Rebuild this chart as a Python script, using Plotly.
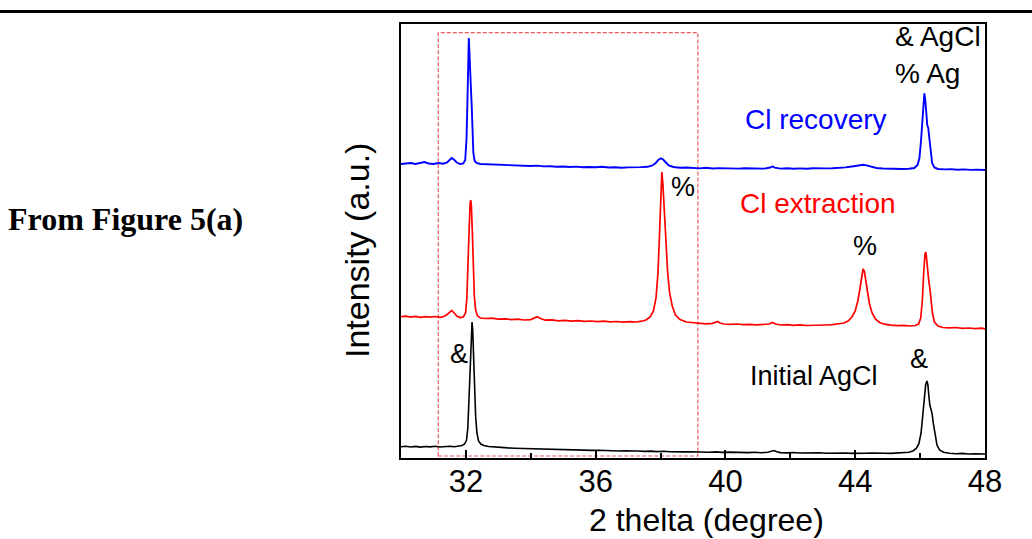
import plotly.graph_objects as go

# ---- data (2 theta in degrees, intensity in arbitrary units, stacked offsets) ----
blue_pts = [
    (30.00, 294), (30.15, 294.5), (30.30, 295), (30.45, 294), (30.60, 294.8), (30.72, 296),
    (30.85, 294.5), (31.00, 294), (31.15, 295), (31.30, 294.3), (31.42, 295.5), (31.50, 298.5),
    (31.56, 300), (31.63, 298.5), (31.72, 295.5), (31.82, 294), (31.92, 294.5), (31.98, 298),
    (32.02, 320), (32.05, 360), (32.07, 400), (32.09, 420), (32.11, 405), (32.13, 380),
    (32.16, 366), (32.18, 352), (32.20, 330), (32.23, 305), (32.27, 297), (32.33, 295),
    (32.45, 294), (32.60, 293.8), (32.80, 293.5), (33.00, 293), (33.20, 293.4), (33.40, 292.6),
    (33.60, 292.8), (33.80, 292.2), (34.00, 292), (34.20, 292.4), (34.40, 291.6), (34.60, 291.8),
    (34.80, 291.2), (35.00, 291.5), (35.20, 291), (35.40, 291.4), (35.60, 290.8), (35.80, 291),
    (36.00, 290.7), (36.20, 291.2), (36.40, 290.5), (36.60, 290.8), (36.80, 290.3), (37.00, 290.6),
    (37.20, 290.4), (37.40, 290.9), (37.60, 291.2), (37.75, 292.5), (37.85, 295), (37.93, 298),
    (38.01, 299.7), (38.08, 298.5), (38.15, 296), (38.25, 292.5), (38.40, 291), (38.60, 290.3),
    (38.80, 290.5), (39.00, 290), (39.20, 289.6), (39.40, 290.2), (39.60, 289.5), (39.80, 289.9),
    (40.00, 289.6), (40.20, 290), (40.40, 289.4), (40.60, 289.8), (40.80, 289.5), (41.00, 289.7),
    (41.20, 289.4), (41.38, 290.5), (41.45, 291.5), (41.52, 290.3), (41.70, 289.4), (41.90, 289.8),
    (42.10, 289.3), (42.30, 289.6), (42.50, 289.2), (42.70, 289.7), (42.90, 289.3), (43.10, 289.6),
    (43.30, 289.8), (43.50, 290.1), (43.70, 290.6), (43.90, 291.5), (44.05, 292.5), (44.15, 293),
    (44.25, 293.2), (44.35, 292.6), (44.48, 291.2), (44.65, 290), (44.85, 289.5), (45.05, 289.2),
    (45.25, 289.6), (45.45, 289), (45.65, 289.3), (45.82, 290), (45.92, 293), (45.98, 300),
    (46.03, 318), (46.07, 340), (46.10, 356), (46.13, 364.7), (46.16, 358), (46.19, 345),
    (46.22, 333), (46.25, 330), (46.28, 320), (46.32, 305), (46.37, 295), (46.44, 290.5),
    (46.55, 289), (46.75, 288.6), (46.95, 288.9), (47.15, 288.3), (47.35, 288.6), (47.55, 288.1),
    (47.75, 288.4), (48.00, 288),
]

red_pts = [
    (30.00, 141.3), (30.15, 141.8), (30.30, 140.9), (30.45, 141.6), (30.60, 140.7), (30.75, 141.4),
    (30.90, 140.8), (31.05, 141.5), (31.20, 140.6), (31.32, 141.5), (31.42, 143.5), (31.50, 146),
    (31.56, 147.3), (31.63, 145.5), (31.72, 142), (31.82, 140.5), (31.92, 141), (31.99, 145),
    (32.03, 160), (32.07, 200), (32.10, 235), (32.13, 255), (32.15, 258), (32.17, 252),
    (32.20, 225), (32.23, 190), (32.26, 162), (32.30, 148), (32.36, 142), (32.45, 140),
    (32.60, 139.5), (32.80, 139.8), (33.00, 138.8), (33.20, 139.2), (33.40, 138.4), (33.60, 138.8),
    (33.80, 138), (34.00, 138.4), (34.10, 139.5), (34.20, 141.3), (34.30, 139.5), (34.45, 137.8),
    (34.65, 138.1), (34.85, 137.2), (35.05, 137.6), (35.25, 136.9), (35.45, 137.3), (35.65, 136.6),
    (35.85, 137), (36.05, 136.4), (36.25, 136.8), (36.45, 136.1), (36.65, 136.5), (36.85, 135.9),
    (37.05, 136.3), (37.25, 136), (37.42, 136.8), (37.55, 138), (37.68, 141), (37.78, 147),
    (37.86, 160), (37.92, 185), (37.97, 225), (38.01, 265), (38.04, 286), (38.07, 275),
    (38.11, 250), (38.16, 215), (38.22, 185), (38.28, 165), (38.36, 152), (38.46, 143),
    (38.60, 138.5), (38.80, 136), (39.00, 135.3), (39.20, 134.6), (39.40, 134.2), (39.60, 134.6),
    (39.70, 135.5), (39.76, 136.5), (39.83, 135), (39.95, 134), (40.15, 133.6), (40.35, 134),
    (40.55, 133.3), (40.75, 133.7), (40.95, 133.1), (41.15, 133.5), (41.35, 134), (41.45, 135.5),
    (41.55, 134), (41.70, 133), (41.90, 133.4), (42.10, 132.7), (42.30, 133.1), (42.50, 132.5),
    (42.70, 132.9), (42.90, 132.6), (43.10, 133), (43.30, 133.3), (43.50, 134), (43.65, 135),
    (43.78, 137), (43.90, 141), (44.00, 147), (44.08, 157), (44.15, 170), (44.20, 182),
    (44.24, 189), (44.28, 187), (44.33, 178), (44.38, 166), (44.44, 154), (44.52, 145),
    (44.62, 139), (44.75, 135.5), (44.90, 133.8), (45.10, 132.8), (45.30, 132.3), (45.50, 132.6),
    (45.70, 132), (45.85, 132.5), (45.95, 134), (46.02, 140), (46.07, 158), (46.11, 185),
    (46.15, 204), (46.18, 206), (46.21, 195), (46.24, 180), (46.27, 176), (46.30, 170),
    (46.34, 158), (46.38, 145), (46.44, 136), (46.55, 132), (46.70, 130.5), (46.90, 130.1),
    (47.10, 130.5), (47.30, 129.7), (47.50, 130), (47.70, 129.4), (47.90, 129.8), (48.00, 129.2),
]

black_pts = [
    (30.00, 11.3), (30.15, 11.8), (30.30, 11), (30.45, 11.6), (30.60, 10.9), (30.75, 11.5),
    (30.90, 11.1), (31.05, 11.7), (31.20, 11), (31.35, 11.4), (31.50, 11.8), (31.65, 11.2),
    (31.78, 11.8), (31.88, 12.5), (31.96, 14), (32.02, 18), (32.06, 30), (32.10, 60),
    (32.14, 100), (32.17, 125), (32.19, 136), (32.21, 128), (32.24, 100), (32.27, 68),
    (32.30, 42), (32.34, 25), (32.39, 17), (32.46, 14), (32.55, 12.5), (32.70, 11.5),
    (32.90, 10.8), (33.10, 10.5), (33.30, 10.1), (33.50, 9.8), (33.70, 9.6), (33.90, 9.2),
    (34.10, 9.3), (34.30, 8.8), (34.50, 8.9), (34.70, 8.4), (34.90, 8.6), (35.10, 8.1),
    (35.30, 8.3), (35.50, 7.8), (35.70, 8), (35.90, 7.6), (36.10, 7.8), (36.30, 7.3),
    (36.50, 7.5), (36.70, 7), (36.90, 7.3), (37.10, 6.8), (37.30, 7), (37.50, 6.6),
    (37.70, 6.9), (37.90, 6.4), (38.10, 6.7), (38.30, 6.2), (38.50, 6.5), (38.70, 6.1),
    (38.90, 6.3), (39.10, 5.9), (39.30, 6.2), (39.50, 5.7), (39.70, 6.1), (39.90, 5.6),
    (40.10, 5.9), (40.30, 5.5), (40.50, 5.8), (40.70, 5.4), (40.90, 5.7), (41.10, 5.3),
    (41.30, 5.8), (41.42, 7), (41.50, 7.5), (41.58, 6.3), (41.70, 5.4), (41.90, 5.1),
    (42.10, 5.5), (42.30, 5), (42.50, 5.3), (42.70, 4.9), (42.90, 5.2), (43.10, 4.8),
    (43.30, 5.1), (43.50, 4.7), (43.70, 5), (43.90, 4.6), (44.10, 5), (44.30, 4.7),
    (44.50, 4.9), (44.70, 4.5), (44.90, 4.8), (45.10, 4.6), (45.30, 4.9), (45.50, 5.2),
    (45.65, 5.8), (45.78, 7), (45.88, 9.5), (45.96, 14), (46.03, 25), (46.08, 42),
    (46.13, 62), (46.17, 73), (46.21, 77), (46.24, 73), (46.27, 62), (46.30, 53),
    (46.34, 48), (46.37, 44), (46.41, 34), (46.46, 22), (46.52, 13), (46.60, 8),
    (46.72, 5.8), (46.90, 4.8), (47.10, 4.3), (47.30, 4.6), (47.50, 4), (47.70, 4.3),
    (47.90, 3.9), (48.00, 4),
]

x_range = [30, 48]
y_range = [0, 434]
major_ticks = [32, 36, 40, 44, 48]
minor_ticks = [34, 38, 42, 46]
box_x = [31.15, 39.15]
box_y = [2, 425.3]

FONT = "Liberation Sans, Arial, sans-serif"

fig = go.Figure()
for pts, col, w in [(black_pts, "#000000", 1.6), (red_pts, "#ff0000", 1.7), (blue_pts, "#0000ff", 1.9)]:
    xs, ys = zip(*pts)
    fig.add_trace(go.Scatter(x=list(xs), y=list(ys), mode="lines",
                             line=dict(color=col, width=w), showlegend=False, hoverinfo="skip"))

fig.update_layout(
    width=1032, height=539,
    margin=dict(l=401, r=47, t=24, b=81),
    paper_bgcolor="white", plot_bgcolor="white",
    font=dict(family=FONT, color="black"),
    showlegend=False,
)
fig.update_xaxes(
    range=x_range, tickvals=major_ticks, ticks="inside", ticklen=8, tickwidth=1.5,
    tickcolor="black", showline=True, linewidth=2, linecolor="black", mirror=True,
    showgrid=False, zeroline=False, tickfont=dict(size=31, family=FONT, color="black"),
    ticklabelstandoff=-5,
    minor=dict(tickvals=minor_ticks, ticks="inside", ticklen=5, tickwidth=1.5, tickcolor="black", showgrid=False),
)
fig.update_yaxes(
    range=y_range, showticklabels=False, ticks="", showline=True, linewidth=2,
    linecolor="black", mirror=True, showgrid=False, zeroline=False,
)

# dashed region box
fig.add_shape(type="rect", xref="x", yref="y", x0=box_x[0], x1=box_x[1], y0=box_y[0], y1=box_y[1],
              line=dict(color="#e85a5a", width=1.2, dash="4px,2px"), layer="below")
# page rule at the top
fig.add_shape(type="line", xref="paper", yref="paper", x0=-0.69, x1=1.09, y0=1.0288, y1=1.0288,
              line=dict(color="black", width=3))

def ann(text, x, y, size, color="black", xref="x", yref="y", xanchor="center", angle=0, family=FONT):
    fig.add_annotation(text=text, x=x, y=y, xref=xref, yref=yref, showarrow=False,
                       xanchor=xanchor, yanchor="middle", textangle=angle,
                       font=dict(size=size, color=color, family=family))

ann("& AgCl", 45.17, 458 - 36, 28, xanchor="left")
ann("% Ag", 45.17, 458 - 73, 28, xanchor="left")
ann("Cl recovery", 42.78, 458 - 119, 28, color="#0000ff")
ann("Cl extraction", 42.84, 458 - 203, 28, color="#ff0000")
ann("%", 38.70, 458 - 187, 27)
ann("%", 44.29, 458 - 246, 27)
ann("&", 31.80, 458 - 354, 27)
ann("&", 45.98, 458 - 359, 27)
ann("Initial AgCl", 42.72, 458 - 376, 27)

ann("2 thelta (degree)", 0.5223, -0.1429, 32, xref="paper", yref="paper")
ann("Intensity (a.u.)", -0.0753, 0.477, 34, xref="paper", yref="paper", angle=-90)
ann("<b>From Figure 5(a)</b>", -0.4709, 0.5507, 32, xref="paper", yref="paper",
    family="Liberation Serif, Times New Roman, serif")

fig.write_html("out.html")
